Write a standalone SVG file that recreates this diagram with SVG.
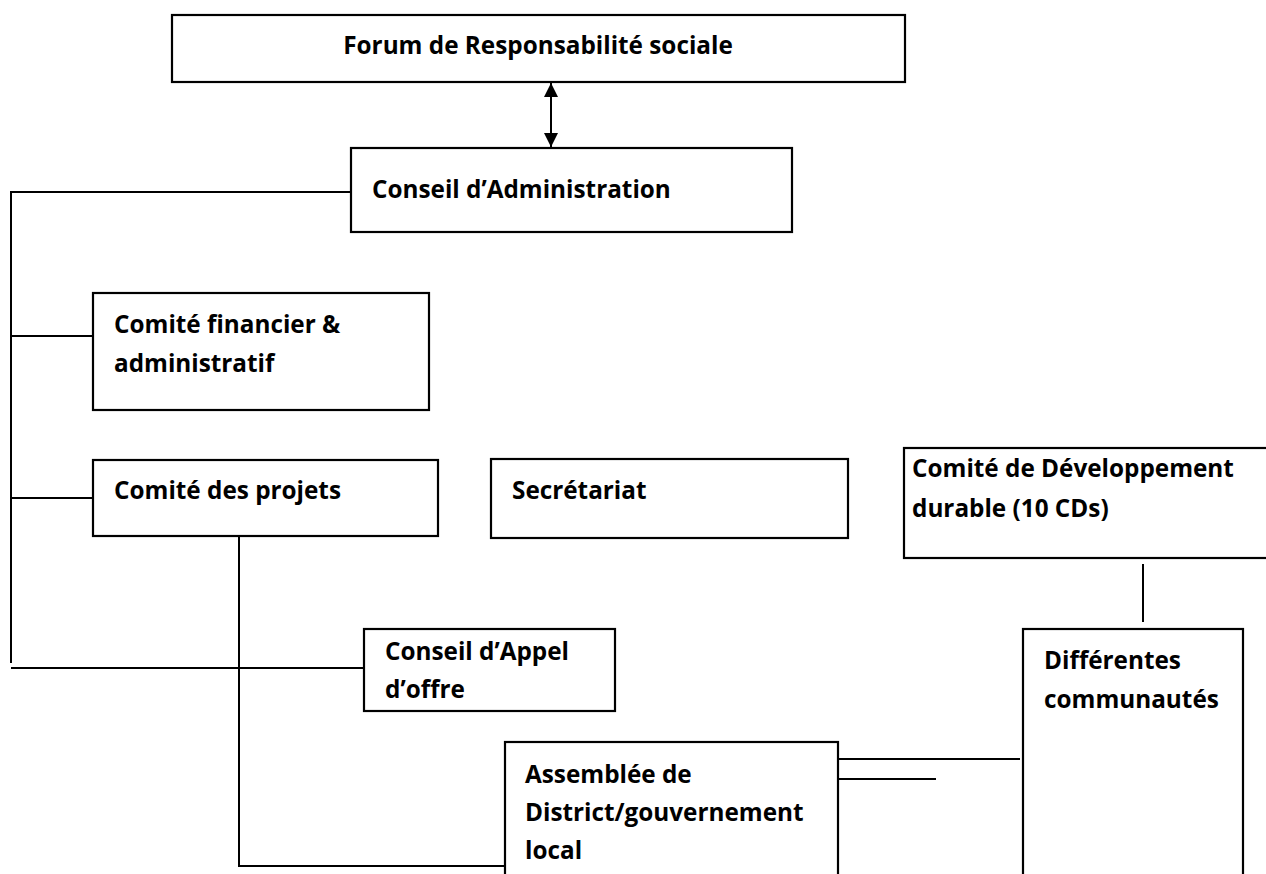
<svg xmlns="http://www.w3.org/2000/svg" width="1266" height="874" viewBox="0 0 1266 874">
<style>
.box{fill:#fff;stroke:#000;stroke-width:2.2}
.ln{fill:none;stroke:#000;stroke-width:2}
.t{font-family:"Open Sans","Liberation Sans",sans-serif;font-weight:bold;font-size:24.3px;fill:#000}
</style>
<defs>
<marker id="ah" viewBox="0 0 14 16" refX="14" refY="8" markerWidth="14" markerHeight="16" markerUnits="userSpaceOnUse" orient="auto-start-reverse">
<path d="M0,1 L14,8 L0,15 Z" fill="#000"/>
</marker>
</defs>
<rect width="1266" height="874" fill="#fff"/>
<g id="connectors">
<line class="ln" x1="551" y1="83" x2="551" y2="147" marker-start="url(#ah)" marker-end="url(#ah)"/>
<polyline class="ln" points="351,192 11,192 11,663"/>
<line class="ln" x1="11" y1="336" x2="93" y2="336"/>
<line class="ln" x1="11" y1="498" x2="93" y2="498"/>
<line class="ln" x1="11" y1="668" x2="364" y2="668"/>
<polyline class="ln" points="239,537 239,866 505,866"/>
<line class="ln" x1="1143" y1="564" x2="1143" y2="622"/>
<line class="ln" x1="838" y1="759" x2="1020" y2="759"/>
<line class="ln" x1="838" y1="779" x2="936" y2="779"/>
</g>
<g id="forum">
<rect class="box" x="172" y="15" width="733" height="67"/>
<text class="t" x="538" y="54" text-anchor="middle">Forum de Responsabilité sociale</text>
</g>
<g id="conseil-admin">
<rect class="box" x="351" y="148" width="441" height="84"/>
<text class="t" x="372" y="198">Conseil d’Administration</text>
</g>
<g id="comite-financier">
<rect class="box" x="93" y="293" width="336" height="117"/>
<text class="t" x="114" y="333">Comité financier &amp;</text>
<text class="t" x="114" y="372">administratif</text>
</g>
<g id="comite-projets">
<rect class="box" x="93" y="460" width="345" height="76"/>
<text class="t" x="114" y="499">Comité des projets</text>
</g>
<g id="secretariat">
<rect class="box" x="491" y="459" width="357" height="79"/>
<text class="t" x="512" y="499">Secrétariat</text>
</g>
<g id="comite-dev">
<rect class="box" x="904" y="448" width="380" height="110"/>
<text class="t" x="912" y="477">Comité de Développement</text>
<text class="t" x="912" y="517">durable (10 CDs)</text>
</g>
<g id="conseil-appel">
<rect class="box" x="364" y="629" width="251" height="82"/>
<text class="t" x="385" y="660">Conseil d’Appel</text>
<text class="t" x="385" y="698">d’offre</text>
</g>
<g id="communautes">
<rect class="box" x="1023" y="629" width="220" height="260"/>
<text class="t" x="1044" y="669">Différentes</text>
<text class="t" x="1044" y="708">communautés</text>
</g>
<g id="assemblee">
<rect class="box" x="505" y="742" width="333" height="150"/>
<text class="t" x="525" y="783">Assemblée de</text>
<text class="t" x="525" y="821">District/gouvernement</text>
<text class="t" x="525" y="859">local</text>
</g>
</svg>
